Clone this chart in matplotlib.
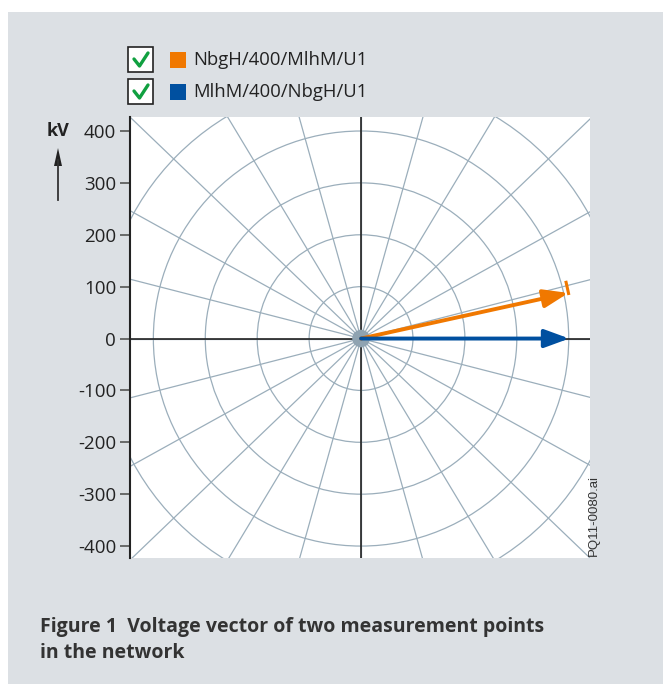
import numpy as np
import matplotlib
matplotlib.use("Agg")
import matplotlib.pyplot as plt
from matplotlib.patches import Rectangle, Circle
from matplotlib.lines import Line2D

plt.rcParams['font.family'] = ['Open Sans', 'DejaVu Sans']

# Data
series_names = ["NbgH/400/MlhM/U1", "MlhM/400/NbgH/U1"]
series_colors = ["#F07800", "#0050A0"]
magnitudes_kv = [409, 401]
angles_deg = [12.4, 0.0]
yticks = [400, 300, 200, 100, 0, -100, -200, -300, -400]
ring_radii = [100, 200, 300, 400, 500]
spoke_angles = list(range(0, 360, 15))

W, H = 663, 684
fig = plt.figure(figsize=(W/100, H/100), dpi=100)
fig.patch.set_facecolor("white")
bg = Rectangle((8/W, 0), 1 - 8/W, 1 - 12/H, transform=fig.transFigure,
               facecolor="#DCE0E4", edgecolor="none", zorder=-10)
fig.patches.append(bg)

ax = fig.add_axes([130/W, 1 - 558/H, 460/W, 441/H])
ax.set_facecolor("white")
xmin, xmax, ymin, ymax = -445, 441, -423, 427
ax.set_xlim(xmin, xmax)
ax.set_ylim(ymin, ymax)

grid_c = "#9BAEBB"
for r in ring_radii:
    ax.add_patch(Circle((0, 0), r, fill=False, edgecolor=grid_c, lw=0.9, zorder=1))
hx, hy = (xmax - xmin) / 2, (ymax - ymin) / 2
for a in spoke_angles:
    t = np.deg2rad(a)
    ax.plot([0, 2*hx*np.cos(t)], [0, 2*hy*np.sin(t)], color=grid_c, lw=0.9, zorder=1)
ax.axhline(0, color="#222222", lw=1.2, zorder=2)
ax.axvline(0, color="#222222", lw=1.2, zorder=2)
ax.add_patch(Circle((0, 0), 17, facecolor="#8FA3B1", edgecolor="none", zorder=3))

for m, a, c in zip(magnitudes_kv, angles_deg, series_colors):
    t = np.deg2rad(a)
    ex, ey = m*np.cos(t), m*np.sin(t)
    ax.annotate("", xy=(ex, ey), xytext=(0, 0),
                arrowprops=dict(arrowstyle="-|>,head_length=1.5,head_width=0.55",
                                lw=2.8, color=c, shrinkA=0, shrinkB=0),
                zorder=5)

# orange end tick
t = np.deg2rad(angles_deg[0])
ex, ey = magnitudes_kv[0]*np.cos(t), magnitudes_kv[0]*np.sin(t)
px, py = -np.sin(t), np.cos(t)
ax.plot([ex - 4*px, ex + 24*px], [ey - 4*py, ey + 24*py], color=series_colors[0], lw=2.2,
        zorder=4, solid_capstyle="butt")

for s in ["top", "right", "bottom"]:
    ax.spines[s].set_visible(False)
ax.spines["left"].set_linewidth(1.5)
ax.spines["left"].set_color("#222222")
ax.set_xticks([])
ax.set_yticks(yticks)
ax.set_yticklabels([str(v) for v in yticks])
ax.tick_params(axis="y", length=7, width=1.2, color="#555555", labelsize=13.5,
               labelcolor="#222222", pad=3)

# kV label and arrow
fig.text(58/W, 1 - 131/H, "kV", fontsize=13, fontweight="bold", color="#222222",
         ha="center", va="center")
fig.add_artist(Line2D([58/W, 58/W], [1 - 200/H, 1 - 160/H], color="#333333", lw=1.3))
fig.patches.append(matplotlib.patches.Polygon(
    [[54/W, 1 - 166/H], [62/W, 1 - 166/H], [58/W, 1 - 148/H]], closed=True,
    transform=fig.transFigure, facecolor="#222222", edgecolor="none"))

# legend
for i, (name, col) in enumerate(zip(series_names, series_colors)):
    y0 = 47 + i*32
    fig.patches.append(Rectangle((128/W, 1 - (y0 + 25)/H), 25/W, 25/H, transform=fig.transFigure,
                                 facecolor="white", edgecolor="#222222", lw=1.2))
    fig.add_artist(Line2D([134/W, 139.5/W, 148/W],
                          [1 - (y0 + 12)/H, 1 - (y0 + 19)/H, 1 - (y0 + 6)/H],
                          color="#10A040", lw=2.4, solid_capstyle="round", solid_joinstyle="round"))
    fig.patches.append(Rectangle((170/W, 1 - (y0 + 21)/H), 16/W, 16/H, transform=fig.transFigure,
                                 facecolor=col, edgecolor="none"))
    fig.text(193/W, 1 - (y0 + 13)/H, name, fontsize=13.3, color="#222222", ha="left", va="center")

fig.text(594/W, 1 - 515/H, "PQ11-0080.ai", fontsize=9.5, color="#333333", rotation=90,
         ha="center", va="center", family=["Liberation Sans", "DejaVu Sans"])

fig.text(40/W, 1 - 627/H, "Figure 1  Voltage vector of two measurement points", fontsize=14,
         fontweight="bold", color="#333333", ha="left", va="center")
fig.text(40/W, 1 - 653/H, "in the network", fontsize=14,
         fontweight="bold", color="#333333", ha="left", va="center")

fig.savefig("out.png", dpi=100, facecolor=fig.get_facecolor())
